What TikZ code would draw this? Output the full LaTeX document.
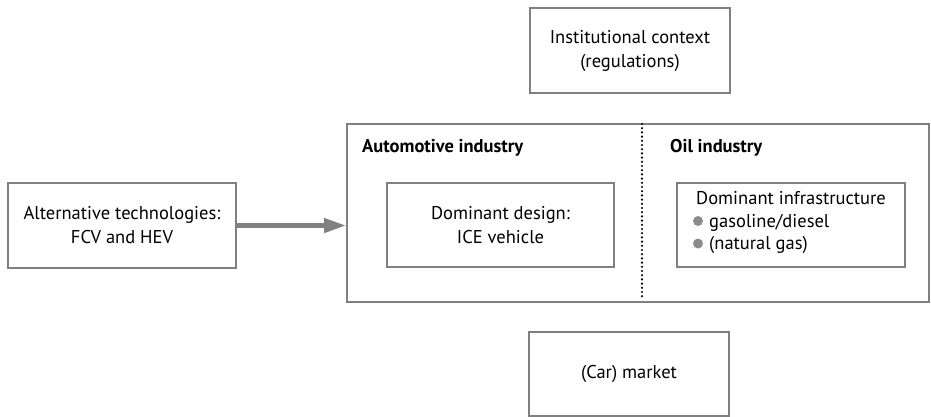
\documentclass[tikz,border=0pt]{standalone}
\usepackage{fontspec}
\setmainfont{PT Sans}
\usetikzlibrary{arrows.meta}
\definecolor{framegray}{HTML}{808080}
\definecolor{dotgray}{HTML}{8C8C8C}
\tikzset{
  txt/.style={font=\fontsize{18.5}{24}\selectfont},
  box/.style={draw=framegray, line width=2pt, fill=white, inner sep=0pt,
    align=center, txt},
  heading/.style={font=\fontsize{18.5}{24}\selectfont\bfseries, anchor=base west, inner sep=0pt},
  line/.style={txt, anchor=base west, inner sep=0pt},
  bullet/.style={circle, fill=dotgray, minimum size=10pt, inner sep=0pt},
  flow/.style={draw=framegray, line width=4.5pt, -{Triangle[length=22pt,width=14pt]}}
}
\begin{document}
\begin{tikzpicture}[x=1pt,y=-1pt]
  \useasboundingbox (0,0) rectangle (931,416);
  % industry frame with the dotted split
  \node[box, minimum width=582pt, minimum height=178pt, anchor=north west] (industry) at (346,123) {};
  \coordinate (splitTop) at (642,124);
  \coordinate (splitBot) at (642,300);
  \draw[black, line width=2.4pt, line cap=round, dash pattern=on 0pt off 4.2pt] (splitTop) -- (splitBot);
  \node[heading] (auto) at (362,152) {Automotive industry};
  \node[heading] (oil) at (670,152) {Oil industry};
  % inner boxes
  \node[box, minimum width=227pt, minimum height=84pt, anchor=north west] (design) at (386,182) {};
  \node[align=center, txt] (designtext) at (design.center) {Dominant design:\\ICE vehicle};
  \node[box, minimum width=228pt, minimum height=84pt, anchor=north west] (infra) at (676,182) {};
  \node[line] (infra1) at (696,204) {Dominant infrastructure};
  \node[bullet] (b1) at (698,221) {};
  \node[line] (infra2) at (709,227) {gasoline/diesel};
  \node[bullet] (b2) at (698,243.5) {};
  \node[line] (infra3) at (709,249.5) {(natural gas)};
  % surrounding boxes
  \node[box, minimum width=200pt, minimum height=85pt, anchor=north west] (inst) at (529,7) {};
  \node[align=center, txt] at (inst.center) {Institutional context\\(regulations)};
  \node[box, minimum width=200pt, minimum height=84pt, anchor=north west] (market) at (528,331) {};
  \node[txt] at (market.center) {(Car) market};
  \node[box, minimum width=228pt, minimum height=85pt, anchor=north west] (alt) at (7,182) {};
  \node[align=center, txt] at (alt.center) {Alternative technologies:\\FCV and HEV};
  % flow into the industry frame
  \draw[flow] (alt.east) -- (alt.east -| industry.west);
\end{tikzpicture}
\end{document}
